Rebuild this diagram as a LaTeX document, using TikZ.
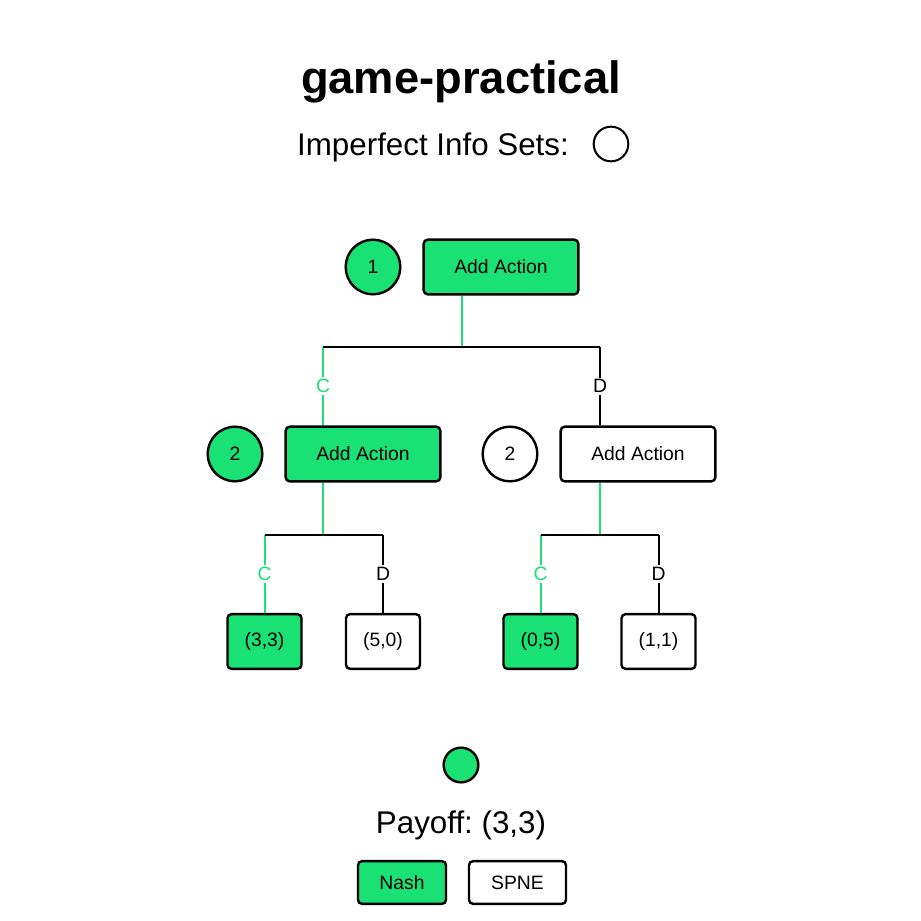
\documentclass[tikz,border=0pt]{standalone}
\usepackage{fontspec}
\setmainfont{Liberation Sans}
\usetikzlibrary{shapes.geometric}
\frenchspacing
\definecolor{nashgreen}{HTML}{19E173}
\newcommand{\actfont}{\fontsize{14.5}{17}\selectfont}
\tikzstyle{player} = [circle, minimum size=41pt, inner sep=0pt, draw=black, line width=1.8pt, font=\actfont]
\tikzstyle{action} = [rectangle, rounded corners=3pt, minimum width=116pt, minimum height=41pt, inner sep=0pt, draw=black, line width=1.8pt, font=\actfont]
\tikzstyle{payoff} = [action, minimum width=55.5pt]
\tikzstyle{button} = [action, minimum height=32pt]
\tikzstyle{branch} = [line width=1.5pt, draw=black]
\tikzstyle{chosen} = [line width=1.5pt, draw=nashgreen]
\tikzstyle{actlabel} = [fill=white, inner sep=1.5pt, font=\actfont]

\begin{document}
\begin{tikzpicture}[x=0.75pt, y=-0.75pt]
    \useasboundingbox (0,0) rectangle (921,921);
    % header
    \node (title) at (461,82) {\fontsize{34}{40}\selectfont\bfseries game-practical};
    \node (infotext) at (433,147) {\fontsize{23.5}{28}\selectfont Imperfect Info Sets:};
    \node (infoset) [player, minimum size=26pt, line width=1.5pt] at (611,144) {};

    % tree nodes
    \node (p1) [player, fill=nashgreen] at (373,267) {1};
    \node (a1) [action, fill=nashgreen] at (501,267) {Add Action};
    \node (p2l) [player, fill=nashgreen] at (235,454) {2};
    \node (a2l) [action, fill=nashgreen] at (363,454) {Add Action};
    \node (p2r) [player, fill=white] at (510,454) {2};
    \node (a2r) [action, fill=white] at (638,454) {Add Action};
    \node (cc) [payoff, fill=nashgreen] at (264.5,641.5) {(3,3)};
    \node (cd) [payoff, fill=white] at (383,641.5) {(5,0)};
    \node (dc) [payoff, fill=nashgreen] at (540.5,641.5) {(0,5)};
    \node (dd) [payoff, fill=white] at (658.5,641.5) {(1,1)};

    % branch points
    \coordinate (j1) at (461.5,347);
    \coordinate (j1c) at (323,347);
    \coordinate (j1d) at (600,347);
    \coordinate (j2l) at (323,535);
    \coordinate (j2lc) at (264.5,535);
    \coordinate (j2ld) at (383,535);
    \coordinate (j2r) at (600,535);
    \coordinate (j2rc) at (540.5,535);
    \coordinate (j2rd) at (658.5,535);

    % player 1
    \draw[chosen] (a1.south -| j1) -- (j1);
    \draw[chosen] (j1c) -- node[actlabel, text=nashgreen] {C} (j1c |- a2l.north);
    \draw[branch] (j1d) -- node[actlabel] {D} (j1d |- a2r.north);
    \draw[branch] (j1c) -- (j1d);
    % player 2, left
    \draw[chosen] (a2l.south -| j2l) -- (j2l);
    \draw[chosen] (j2lc) -- node[actlabel, text=nashgreen] {C} (cc);
    \draw[branch] (j2ld) -- node[actlabel] {D} (cd);
    \draw[branch] (j2lc) -- (j2ld);
    % player 2, right
    \draw[chosen] (a2r.south -| j2r) -- (j2r);
    \draw[chosen] (j2rc) -- node[actlabel, text=nashgreen] {C} (dc);
    \draw[branch] (j2rd) -- node[actlabel] {D} (dd);
    \draw[branch] (j2rc) -- (j2rd);

    % result
    \node (outcome) [player, minimum size=26pt, fill=nashgreen] at (461,765) {};
    \node (payofftext) at (461,825) {\fontsize{23.5}{28}\selectfont Payoff: (3,3)};
    \node (nash) [button, minimum width=66pt, fill=nashgreen] at (402,882.5) {Nash};
    \node (spne) [button, minimum width=72.75pt, fill=white] at (517.5,882.5) {SPNE};
\end{tikzpicture}
\end{document}
